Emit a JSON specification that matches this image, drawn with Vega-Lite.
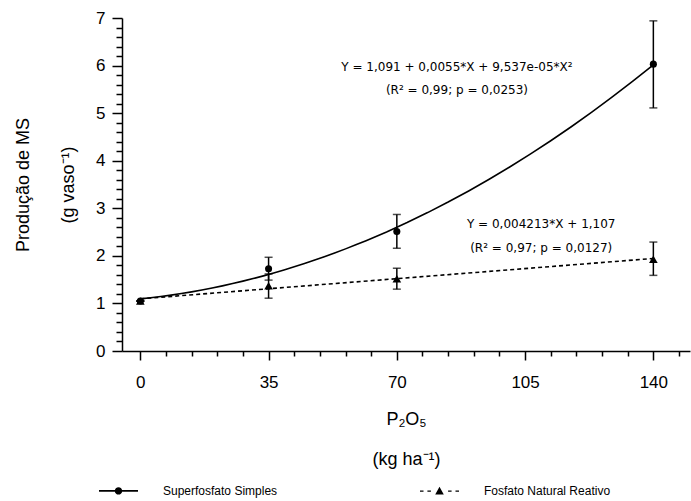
{
  "$schema": "https://vega.github.io/schema/vega-lite/v6.json",
  "width": 568,
  "height": 333,
  "autosize": {"type": "none"},
  "padding": {"left": 122, "top": 18, "right": 1, "bottom": 150},
  "background": "white",
  "config": {
    "view": {"stroke": null},
    "axis": {
      "labelFont": "Liberation Sans",
      "titleFont": "Liberation Sans",
      "labelColor": "black",
      "titleColor": "black",
      "domainColor": "black",
      "tickColor": "black",
      "domainWidth": 1.5,
      "tickWidth": 1.5,
      "grid": false,
      "titleFontWeight": "normal"
    },
    "legend": {
      "orient": "none",
      "legendX": -24,
      "legendY": 452,
      "direction": "horizontal",
      "symbolSize": 1521,
      "symbolStrokeColor": "black",
      "symbolFillColor": "black",
      "symbolStrokeWidth": 1.5,
      "symbolOpacity": 1,
      "labelOffset": 24,
      "columnPadding": 139,
      "labelFont": "Liberation Sans",
      "labelFontSize": 12,
      "labelColor": "black"
    }
  },
  "datasets": {
    "pts": [
      {"serie": "Superfosfato Simples", "x": 0, "y": 1.05, "lo": 1.05, "hi": 1.05},
      {"serie": "Superfosfato Simples", "x": 35, "y": 1.73, "lo": 1.49, "hi": 1.97},
      {"serie": "Superfosfato Simples", "x": 70, "y": 2.51, "lo": 2.16, "hi": 2.87},
      {"serie": "Superfosfato Simples", "x": 140, "y": 6.03, "lo": 5.11, "hi": 6.94},
      {"serie": "Fosfato Natural Reativo", "x": 0, "y": 1.05, "lo": 1.05, "hi": 1.05},
      {"serie": "Fosfato Natural Reativo", "x": 35, "y": 1.37, "lo": 1.11, "hi": 1.62},
      {"serie": "Fosfato Natural Reativo", "x": 70, "y": 1.52, "lo": 1.30, "hi": 1.74},
      {"serie": "Fosfato Natural Reativo", "x": 140, "y": 1.93, "lo": 1.59, "hi": 2.29}
    ],
    "ann": [
      {"x": 86.4, "y": 5.98, "t": "Y = 1,091 + 0,0055*X + 9,537e-05*X²"},
      {"x": 86.4, "y": 5.49, "t": "(R² = 0,99; p = 0,0253)"},
      {"x": 109.4, "y": 2.66, "t": "Y = 0,004213*X + 1,107"},
      {"x": 109.4, "y": 2.17, "t": "(R² = 0,97; p = 0,0127)"}
    ]
  },
  "encoding": {
    "x": {
      "field": "x",
      "type": "quantitative",
      "scale": {"domain": [-5, 150], "nice": false, "zero": false},
      "axis": {
        "values": [0, 7, 14, 21, 28, 35, 42, 49, 56, 63, 70, 77, 84, 91, 98, 105, 112, 119, 126, 133, 140, 147],
        "labelExpr": "datum.value % 35 === 0 ? datum.label : ''",
        "tickSize": {"condition": {"test": "datum.value % 35 === 0", "value": 9}, "value": 5},
        "labelFontSize": 17,
        "labelPadding": 14,
        "title": ["P₂O₅", "(kg ha⁻¹)"],
        "titleFontSize": 18,
        "titleLineHeight": 40,
        "titlePadding": 20
      }
    },
    "y": {
      "field": "y",
      "type": "quantitative",
      "scale": {"domain": [0, 7], "nice": false},
      "axis": {
        "values": [0, 0.2, 0.4, 0.6, 0.8, 1, 1.2, 1.4, 1.6, 1.8, 2, 2.2, 2.4, 2.6, 2.8, 3, 3.2, 3.4, 3.6, 3.8, 4, 4.2, 4.4, 4.6, 4.8, 5, 5.2, 5.4, 5.6, 5.8, 6, 6.2, 6.4, 6.6, 6.8, 7],
        "labelExpr": "abs(datum.value - round(datum.value)) < 0.01 ? format(datum.value, 'd') : ''",
        "tickSize": {"condition": {"test": "abs(datum.value - round(datum.value)) < 0.01", "value": 10}, "value": 6},
        "labelFontSize": 17,
        "labelPadding": 7,
        "title": ["Produção de MS", "(g vaso⁻¹)"],
        "titleFontSize": 18,
        "titleLineHeight": 45,
        "titlePadding": 18
      }
    }
  },
  "layer": [
    {
      "data": {"name": "pts"},
      "transform": [
        {"filter": "datum.serie === 'Superfosfato Simples'"},
        {"regression": "y", "on": "x", "method": "poly", "order": 2, "extent": [0, 140]}
      ],
      "mark": {"type": "line", "color": "black", "strokeWidth": 1.6}
    },
    {
      "data": {"name": "pts"},
      "transform": [
        {"filter": "datum.serie === 'Fosfato Natural Reativo'"},
        {"regression": "y", "on": "x", "method": "linear", "extent": [0, 140]}
      ],
      "mark": {"type": "line", "color": "black", "strokeWidth": 1.6, "strokeDash": [4, 3]}
    },
    {
      "data": {"name": "pts"},
      "mark": {"type": "rule", "color": "black", "strokeWidth": 1.5},
      "encoding": {"y": {"field": "lo", "type": "quantitative"}, "y2": {"field": "hi"}}
    },
    {
      "data": {"name": "pts"},
      "mark": {"type": "tick", "color": "black", "orient": "horizontal", "size": 8, "thickness": 1.5},
      "encoding": {"y": {"field": "lo", "type": "quantitative"}}
    },
    {
      "data": {"name": "pts"},
      "mark": {"type": "tick", "color": "black", "orient": "horizontal", "size": 8, "thickness": 1.5},
      "encoding": {"y": {"field": "hi", "type": "quantitative"}}
    },
    {
      "data": {"name": "pts"},
      "transform": [{"filter": "datum.serie === 'Fosfato Natural Reativo'"}],
      "mark": {"type": "point", "filled": true, "color": "black", "opacity": 1, "size": 75, "shape": "triangle-up"}
    },
    {
      "data": {"name": "pts"},
      "transform": [{"filter": "datum.serie === 'Superfosfato Simples'"}],
      "mark": {"type": "point", "filled": true, "color": "black", "opacity": 1, "size": 50, "shape": "circle"}
    },
    {
      "data": {"name": "pts"},
      "transform": [{"filter": "false"}],
      "mark": {"type": "point", "filled": true, "color": "black", "opacity": 1},
      "encoding": {
        "shape": {
          "field": "serie",
          "type": "nominal",
          "scale": {
            "domain": ["Superfosfato Simples", "Fosfato Natural Reativo"],
            "range": [
              "M-1,-0.04H1V0.04H-1ZM-0.19,0A0.19,0.19,0,1,1,0.19,0A0.19,0.19,0,1,1,-0.19,0Z",
              "M-1,-0.035H-0.82V0.035H-1ZM-0.62,-0.035H-0.44V0.035H-0.62ZM0.44,-0.035H0.62V0.035H0.44ZM0.82,-0.035H1V0.035H0.82ZM0,-0.22L0.22,0.17L-0.22,0.17Z"
            ]
          },
          "legend": {"title": null}
        }
      }
    },
    {
      "data": {"name": "ann"},
      "mark": {"type": "text", "font": "DejaVu Sans", "fontSize": 12, "color": "black", "align": "center", "baseline": "middle"},
      "encoding": {"text": {"field": "t"}}
    }
  ]
}
